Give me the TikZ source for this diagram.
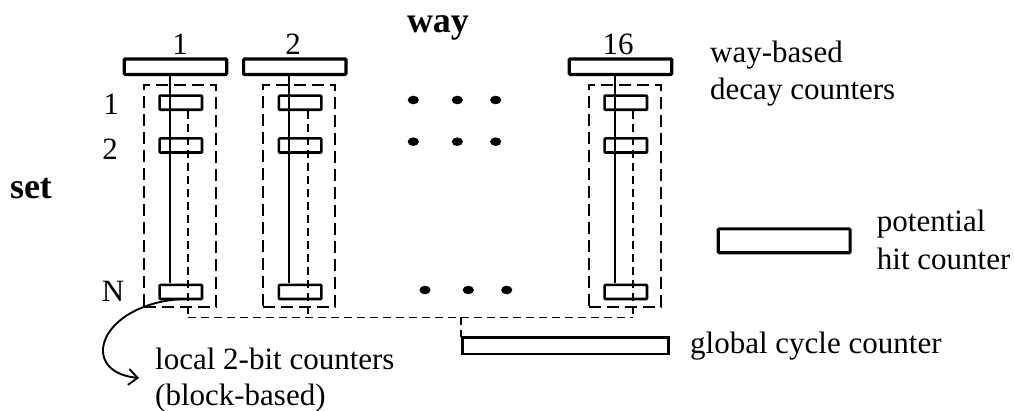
\documentclass[tikz,border=0pt]{standalone}
\usepackage{fontspec}
\setmainfont{Liberation Serif}
\usetikzlibrary{arrows.meta}
\begin{document}
\begin{tikzpicture}[x=1pt,y=-1pt,
  decay/.style={draw,line width=3.2pt,minimum width=102.4pt,minimum height=15.5pt,inner sep=0pt,outer sep=0pt,rounded corners=1pt},
  localbox/.style={draw,line width=2.6pt,minimum width=42.4pt,minimum height=14.1pt,inner sep=0pt,outer sep=0pt,rounded corners=0.8pt},
  grp/.style={draw,line width=1.9pt,dash pattern=on 12pt off 6pt,minimum width=72.1pt,minimum height=222.4pt,inner sep=0pt,outer sep=0pt},
  link/.style={line width=1.8pt,dash pattern=on 8pt off 5pt},
  wire/.style={line width=1.7pt},
  lbl/.style={font=\fontsize{31}{36}\selectfont,inner sep=0pt,anchor=base},
  lblw/.style={font=\fontsize{31}{36}\selectfont,inner sep=0pt,anchor=base west},
  bigl/.style={font=\fontsize{36}{40}\selectfont\bfseries,inner sep=0pt,anchor=base},
  dot/.style={fill=black}
]
\useasboundingbox (0,0) rectangle (1014,411);

% titles
\node[bigl] (way) at (438,33) {way};
\node[bigl] (set) at (31,199) {set};

% row labels
\node[lbl] (row1) at (111,115) {1};
\node[lbl] (row2) at (110,160) {2};
\node[lbl] (rowN) at (113,302) {N};

% columns
\foreach \i/\dx/\lx in {1/0/180, 2/119.3/293, 16/445/618}{
  \node[lbl] (c\i) at (\lx,55) {\i};
  \node[decay] (d\i) at (175.5+\dx,66.7) {};
  \node[grp] (g\i) at (179.7+\dx,196.15) {};
  \node[localbox] (ra\i) at (180.8+\dx,102.7) {};
  \node[localbox] (rb\i) at (180.8+\dx,145.5) {};
  \node[localbox] (rn\i) at (180.8+\dx,292) {};
  \draw[wire] (170+\dx,76) coordinate (t\i) -- (170+\dx,283.3) coordinate (b\i);
  \coordinate (s\i) at (188.3+\dx,111);
  \coordinate (e\i) at (188.3+\dx,317.5);
  \draw[link] (s\i) -- (e\i);
}

% dots
\foreach \x in {413.3,457.3,495.7}{
  \fill[dot] (\x,100) ellipse [x radius=5.6, y radius=4.3];
  \fill[dot] (\x,141.7) ellipse [x radius=5.6, y radius=4.3];
}
\foreach \x in {425,468.3,506.7}{
  \fill[dot] (\x,290) ellipse [x radius=5.6, y radius=4.3];
}

% global cycle counter
\node[draw,line width=2.6pt,minimum width=206pt,minimum height=16.5pt,inner sep=0pt,outer sep=0pt,anchor=north west] (gcc) at (462.3,337.3) {};
\coordinate (j) at (461,317.5);
\draw[link] (e1) -- (e16);
\draw[link] (j) -- (j |- gcc.north);
\node[lblw] (gcct) at (690,353) {global cycle counter};

% potential hit counter
\node[draw,line width=3.2pt,minimum width=131.8pt,minimum height=23.8pt,inner sep=0pt,outer sep=0pt,rounded corners=1pt] (phc) at (784.2,240.8) {};
\node[lblw] (phc1) at (876.7,231.7) {potential};
\node[lblw] (phc2) at (876.7,270) {hit counter};

% way-based decay counters label
\node[lblw] (wb1) at (710,63) {way-based};
\node[lblw] (wb2) at (710,100) {decay counters};

% local counters label and arrow
\coordinate (arr) at (139,378);
\draw[line width=1.9pt,-{Straight Barb[length=9pt,width=16pt,line width=1.9pt]}] (rn1.south) .. controls (98,305) and (78,372) .. (arr);
\node[lblw] (lc1) at (155,370) {local 2-bit counters};
\node[lblw] (lc2) at (155,405) {(block-based)};
\end{tikzpicture}
\end{document}
